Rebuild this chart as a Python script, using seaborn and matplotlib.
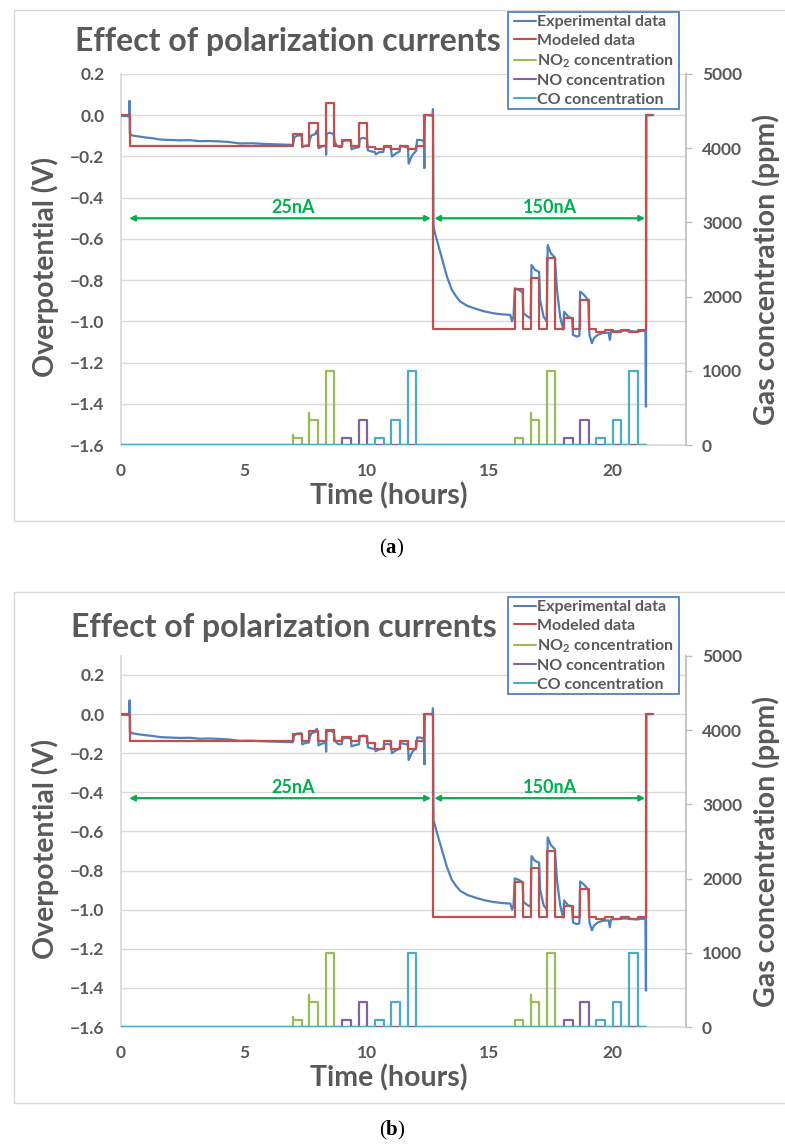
import matplotlib
matplotlib.use("Agg")
import matplotlib.pyplot as plt
import seaborn as sns
import numpy as np
import pandas as pd
from matplotlib.lines import Line2D
from matplotlib.patches import Rectangle
from matplotlib.ticker import FuncFormatter, FixedLocator

sns.set_theme(style="white")
plt.rcParams['font.family'] = ['Lato', 'DejaVu Sans']
plt.rcParams['mathtext.default'] = 'regular'
plt.rcParams['mathtext.fontset'] = 'custom'
plt.rcParams['mathtext.rm'] = 'Liberation Serif'
plt.rcParams['mathtext.bf'] = 'Liberation Serif:bold'

# ---------------- data ----------------
title = "Effect of polarization currents"
xlabel = "Time (hours)"
ylabel_left = "Overpotential (V)"
ylabel_right = "Gas concentration (ppm)"
series_names = ["Experimental data", "Modeled data", "NO$_{2}$ concentration",
                "NO concentration", "CO concentration"]
x_ticks = [0, 5, 10, 15, 20]
left_ticks = [-1.6, -1.4, -1.2, -1.0, -0.8, -0.6, -0.4, -0.2, 0.0, 0.2]
right_ticks = [0, 1000, 2000, 3000, 4000, 5000]

# experimental overpotential (V) vs time (h)
exp_t = [0.00, 0.33, 0.35, 0.36, 0.45, 0.70, 1.00, 1.30, 1.60, 2.00, 2.40, 2.80, 3.20,
         3.60, 4.00, 4.40, 4.85, 5.30, 5.80, 6.30, 6.60, 6.98,
         7.00, 7.05, 7.15, 7.30, 7.36, 7.38, 7.50, 7.65, 7.68, 7.75, 7.90, 7.97, 7.99,
         8.02, 8.04, 8.20, 8.34, 8.35, 8.37, 8.50, 8.66, 8.70, 8.80, 8.90, 8.99, 9.02,
         9.20, 9.36, 9.38, 9.55, 9.69, 9.72, 9.85, 10.02, 10.05, 10.20, 10.33, 10.37,
         10.50, 10.68, 10.71, 10.85, 10.98, 11.03, 11.20, 11.34, 11.37, 11.55, 11.68,
         11.71, 11.85, 12.02, 12.05, 12.20, 12.33, 12.35, 12.37, 12.50, 12.68, 12.70,
         12.72, 12.80, 12.93, 13.10, 13.27, 13.47, 13.65, 13.81, 14.10, 14.49, 14.80,
         15.17, 15.50, 15.85, 15.92, 15.98, 16.03, 16.20, 16.35, 16.38, 16.55, 16.68,
         16.71, 16.85, 17.02, 17.06, 17.20, 17.33, 17.37, 17.50, 17.66, 17.75, 17.88,
         18.00, 18.04, 18.20, 18.36, 18.40, 18.55, 18.66, 18.69, 18.85, 19.02, 19.07,
         19.17, 19.25, 19.40, 19.60, 19.85, 19.90, 19.95, 20.50, 21.00, 21.35, 21.37,
         21.39, 21.65]
exp_v = [-0.003, -0.005, 0.070, -0.090, -0.098, -0.103, -0.108, -0.112, -0.118, -0.120,
         -0.122, -0.121, -0.126, -0.125, -0.127, -0.130, -0.137, -0.136, -0.139, -0.141,
         -0.142, -0.144,
         -0.143, -0.110, -0.100, -0.098, -0.100, -0.155, -0.148, -0.145, -0.120, -0.098,
         -0.092, -0.075, -0.090, -0.095, -0.160, -0.150, -0.148, -0.192, -0.090, -0.085,
         -0.092, -0.130, -0.150, -0.155, -0.153, -0.125, -0.122, -0.125, -0.165, -0.158,
         -0.155, -0.115, -0.110, -0.115, -0.170, -0.176, -0.178, -0.190, -0.180, -0.178,
         -0.155, -0.153, -0.156, -0.200, -0.185, -0.176, -0.148, -0.153, -0.156, -0.235,
         -0.195, -0.172, -0.120, -0.120, -0.125, -0.257, 0.000, 0.000, -0.002, 0.030,
         -0.540, -0.580, -0.637, -0.710, -0.783, -0.848, -0.880, -0.904, -0.925, -0.941,
         -0.952, -0.961, -0.966, -0.969, -1.000, -0.975, -0.840, -0.848, -0.860, -0.960,
         -0.977, -0.985, -0.726, -0.750, -0.760, -0.896, -0.977, -1.000, -0.630, -0.670,
         -0.690, -0.850, -0.980, -1.040, -0.953, -0.977, -0.985, -1.066, -1.074, -1.070,
         -0.856, -0.872, -0.896, -1.066, -1.106, -1.082, -1.066, -1.057, -1.055, -1.090,
         -1.050, -1.045, -1.050, -1.045, -1.414, 0.000, 0.000]

# modeled overpotential: level changes (time of change, level held afterwards)
mod_t = [0.00, 0.35, 7.00, 7.36, 7.66, 8.01, 8.35, 8.68, 8.99, 9.36, 9.67, 10.00, 10.33,
         10.69, 10.98, 11.34, 11.68, 12.02, 12.34, 12.70, 16.02, 16.36, 16.69, 17.03,
         17.34, 17.68, 18.02, 18.38, 18.67, 19.04, 19.35, 19.69, 20.03, 20.37, 20.70,
         21.03, 21.37]
mod_end = 21.67
mod_a = [0.0, -0.148, -0.090, -0.148, -0.040, -0.148, 0.060, -0.148, -0.120, -0.148,
         -0.040, -0.155, -0.165, -0.148, -0.165, -0.148, -0.165, -0.148, 0.0, -1.037,
         -0.843, -1.037, -0.790, -1.037, -0.694, -1.037, -0.985, -1.037, -0.896, -1.037,
         -1.050, -1.040, -1.050, -1.040, -1.050, -1.040, 0.0]
mod_b = [0.0, -0.140, -0.102, -0.140, -0.085, -0.140, -0.082, -0.140, -0.119, -0.140,
         -0.111, -0.150, -0.179, -0.140, -0.179, -0.140, -0.179, -0.140, 0.0, -1.040,
         -0.860, -1.040, -0.786, -1.040, -0.699, -1.040, -0.982, -1.040, -0.895, -1.040,
         -1.050, -1.040, -1.050, -1.040, -1.050, -1.040, 0.0]

# gas pulses (ppm)
gas_end = 21.37
no2_start = [7.00, 7.66, 8.35, 16.02, 16.69, 17.34]
no2_stop = [7.36, 8.01, 8.68, 16.36, 17.03, 17.68]
no2_ppm = [100, 333, 1000, 100, 333, 1000]
no2_peak = [135, 430, 1000, 100, 430, 1000]
no_start = [8.99, 9.67, 18.02, 18.67]
no_stop = [9.36, 10.00, 18.38, 19.04]
no_ppm = [100, 333, 100, 333]
co_start = [10.33, 10.98, 11.68, 19.35, 20.03, 20.70]
co_stop = [10.69, 11.34, 12.02, 19.69, 20.37, 21.03]
co_ppm = [100, 333, 1000, 100, 333, 1000]

currents = ["25nA", "150nA"]
current_span = [(0.33, 12.62), (12.75, 21.34)]
current_text_x = [6.99, 17.45]

# ---------------- styles ----------------
C_EXP = "#4F81BD"
C_MOD = "#C0504D"
C_NO2 = "#9BBB59"
C_NO = "#8064A2"
C_CO = "#4BACC6"
C_TXT = "#595959"
C_ARW = "#00B050"
GRID = "#D9D9D9"

W, H = 785, 1145
fig = plt.figure(figsize=(W / 100, H / 100), dpi=100)
fig.patch.set_facecolor("white")


def steps(ts, vs, end):
    xs, ys = [], []
    for i, (t, v) in enumerate(zip(ts, vs)):
        t_next = ts[i + 1] if i + 1 < len(ts) else end
        xs += [t, t_next]
        ys += [v, v]
    return xs, ys


def pulses(starts, stops, levels, peaks, end):
    xs, ys = [0.0], [0.0]
    for s, e, lv, pk in zip(starts, stops, levels, peaks):
        xs += [s, s, s, e, e]
        ys += [0, pk, lv, lv, 0]
    xs.append(end)
    ys.append(0)
    return xs, ys


def fx(px):
    return px / W


def fy(py):
    return 1 - py / H


def minus_fmt(v, pos):
    s = f"{v:.1f}"
    if s == "-0.0":
        s = "0.0"
    return s.replace("-", "\u2212")


def panel(top_px, ytop, mod_v, arrow_y, label, title_base, title_x, legend_top):
    left, right = 121, 686
    bottom_px = top_px + 371
    ax = fig.add_axes([fx(left), fy(bottom_px), (right - left) / W, 371 / H])
    ax2 = ax.twinx()

    d_exp = pd.DataFrame({"t": exp_t, "v": exp_v})
    sns.lineplot(data=d_exp, x="t", y="v", ax=ax, color=C_EXP, lw=1.6,
                 sort=False, estimator=None, zorder=3)
    mx, my = steps(mod_t, mod_v, mod_end)
    sns.lineplot(x=mx, y=my, ax=ax, color=C_MOD, lw=1.6, sort=False,
                 estimator=None, zorder=4)

    gx, gy = pulses(no2_start, no2_stop, no2_ppm, no2_peak, gas_end)
    sns.lineplot(x=gx, y=gy, ax=ax2, color=C_NO2, lw=1.6, sort=False, estimator=None)
    gx, gy = pulses(no_start, no_stop, no_ppm, no_ppm, gas_end)
    sns.lineplot(x=gx, y=gy, ax=ax2, color=C_NO, lw=1.6, sort=False, estimator=None)
    gx, gy = pulses(co_start, co_stop, co_ppm, co_ppm, gas_end)
    sns.lineplot(x=gx, y=gy, ax=ax2, color=C_CO, lw=1.6, sort=False, estimator=None)

    ax.set_xlim(0, 23)
    ax.set_ylim(-1.6, ytop)
    ax2.set_ylim(0, 5000)
    ax.xaxis.set_major_locator(FixedLocator(x_ticks))
    ax.yaxis.set_major_locator(FixedLocator(left_ticks))
    ax.yaxis.set_major_formatter(FuncFormatter(minus_fmt))
    ax2.yaxis.set_major_locator(FixedLocator(right_ticks))

    ax.grid(axis="y", color=GRID, lw=1)
    ax.grid(axis="x", visible=False)
    ax2.grid(False)
    for sp in ["top", "right"]:
        ax.spines[sp].set_visible(False)
    ax.spines["left"].set_color(GRID)
    ax.spines["bottom"].set_color(GRID)
    for sp in ["top", "left", "bottom"]:
        ax2.spines[sp].set_visible(False)
    ax2.spines["right"].set_color("#BFBFBF")

    ax.tick_params(axis="y", length=0, pad=12, labelsize=12.5, labelcolor=C_TXT)
    ax.tick_params(axis="x", length=0, pad=13, labelsize=12.5, labelcolor=C_TXT)
    ax2.tick_params(axis="y", length=4.5, width=1, color="#BFBFBF", pad=7,
                    labelsize=12.5, labelcolor=C_TXT)
    for lab in ax.get_xticklabels() + ax.get_yticklabels() + ax2.get_yticklabels():
        lab.set_fontweight("bold")

    ax.set_xlabel(xlabel, fontsize=20.5, fontweight="bold", color=C_TXT)
    ax.set_ylabel(ylabel_left, fontsize=20.5, fontweight="bold", color=C_TXT)
    ax2.set_ylabel(ylabel_right, fontsize=20.5, fontweight="bold", color=C_TXT)
    ax.xaxis.set_label_coords(0.4735, -0.1)
    ax.yaxis.set_label_coords(-0.11, 0.48)
    ax2.yaxis.set_label_coords(1.117, 0.474)

    for (a, b) in current_span:
        ax.annotate("", xy=(b, arrow_y), xytext=(a, arrow_y),
                    arrowprops=dict(arrowstyle="<|-|>", color=C_ARW, lw=1.6,
                                    mutation_scale=8, shrinkA=0, shrinkB=0),
                    zorder=6)
    for name, tx in zip(currents, current_text_x):
        ax.text(tx, arrow_y + 0.012, name, color=C_ARW, fontsize=13, fontweight="bold",
                ha="center", va="bottom", transform=ax.transData)

    # chart area border
    fig.patches.append(Rectangle((fx(14), fy(top_px - 64 + 511)), (786 - 14) / W, 511 / H,
                                 transform=fig.transFigure, fill=False,
                                 ec=GRID, lw=1, zorder=1))
    fig.text(fx(title_x), fy(title_base), title, fontsize=23, fontweight="bold",
             color=C_TXT, ha="center", va="baseline")

    # legend
    fig.patches.append(Rectangle((fx(507.7), fy(legend_top + 97.6)), 171.6 / W, 97.6 / H,
                                 transform=fig.transFigure, fc="white", ec=C_EXP,
                                 lw=1.3, zorder=4.9))
    handles = [Line2D([], [], color=c, lw=1.5) for c in [C_EXP, C_MOD, C_NO2, C_NO, C_CO]]
    leg = fig.legend(handles, series_names, loc="upper left",
                     bbox_to_anchor=(fx(514), fy(legend_top + 3.5)), frameon=False,
                     fontsize=11.5, handlelength=1.35, handletextpad=0.12,
                     labelspacing=0.27, borderpad=0, borderaxespad=0)
    for t in leg.get_texts():
        t.set_color(C_TXT)
        t.set_fontweight("bold")
    leg.set_zorder(5)

    fig.text(fx(label[1]), fy(label[2]), "(" + label[0] + ")", fontsize=15,
             family="Liberation Serif", color="black", ha="center", va="center")
    return ax


panel(74, 0.2, mod_a, -0.5, (r"$\mathbf{a}$", 392, 548), 51, 288, 11.7)
panel(656, 0.297, mod_b, -0.43, (r"$\mathbf{b}$", 392, 1130), 637, 284, 596.7)

fig.savefig("out.png", dpi=100, facecolor="white")
